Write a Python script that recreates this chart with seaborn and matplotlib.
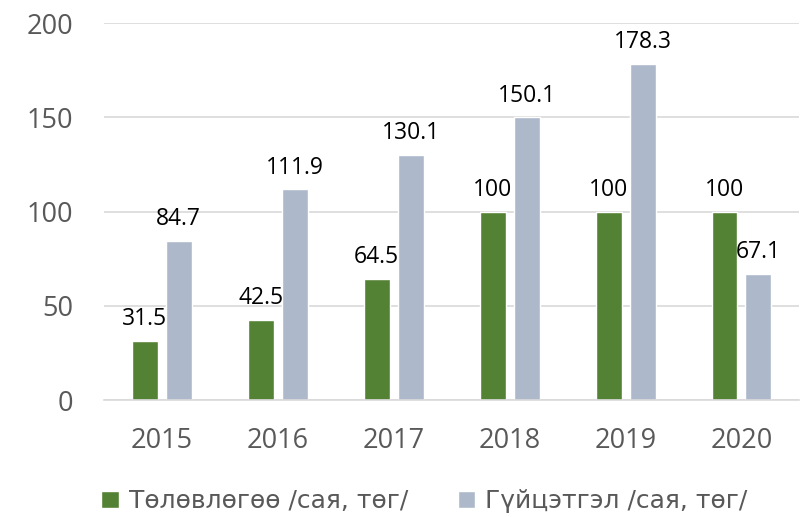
import matplotlib
matplotlib.use("Agg")
import matplotlib.pyplot as plt
import seaborn as sns
import pandas as pd

years = ["2015", "2016", "2017", "2018", "2019", "2020"]
plan = [31.5, 42.5, 64.5, 100, 100, 100]
actual = [84.7, 111.9, 130.1, 150.1, 178.3, 67.1]
plan_labels = ["31.5", "42.5", "64.5", "100", "100", "100"]
actual_labels = ["84.7", "111.9", "130.1", "150.1", "178.3", "67.1"]
series = ["Төлөвлөгөө /сая, төг/", "Гүйцэтгэл /сая, төг/"]
colors = ["#548235", "#ADB9CA"]

df = pd.DataFrame({
    "year": years * 2,
    "value": plan + actual,
    "series": [series[0]] * len(years) + [series[1]] * len(years),
})

sns.set_theme(style="white")
plt.rcParams["font.family"] = ["Open Sans", "DejaVu Sans"]

fig = plt.figure(figsize=(8.1, 5.17), dpi=100)
ax = fig.add_axes([0.128, 0.226, 0.859, 0.729])

sns.barplot(data=df, x="year", y="value", hue="series", palette=colors,
            width=0.586, gap=0.235, ax=ax, saturation=1, legend=True)

for cont, labs in zip(ax.containers, [plan_labels, actual_labels]):
    ax.bar_label(cont, labels=labs, padding=7, fontsize=16.5, color="black")

ax.set_ylim(0, 200)
ax.set_xlim(-0.5, 5.5)
ax.set_yticks([0, 50, 100, 150, 200])
ax.yaxis.grid(True, color="#D9D9D9", linewidth=1.2)
ax.set_axisbelow(True)
for s in ["left", "right", "top"]:
    ax.spines[s].set_visible(False)
ax.spines["bottom"].set_color("#D9D9D9")
ax.spines["bottom"].set_linewidth(1.2)
ax.set_xlabel("")
ax.set_ylabel("")
ax.tick_params(axis="both", length=0, labelsize=19.5, labelcolor="#595959")
ax.tick_params(axis="y", pad=22)
ax.tick_params(axis="x", pad=19)

handles, labels = ax.get_legend_handles_labels()
ax.legend_.remove()
fig.legend(handles, labels, loc="center", bbox_to_anchor=(0.524, 0.03), ncol=2,
           frameon=False, prop={"family": ["DejaVu Sans"], "size": 18},
           labelcolor="#595959",
           handlelength=0.7, handleheight=0.7, handletextpad=0.4, columnspacing=2.0)

fig.savefig("out.png", dpi=100)
